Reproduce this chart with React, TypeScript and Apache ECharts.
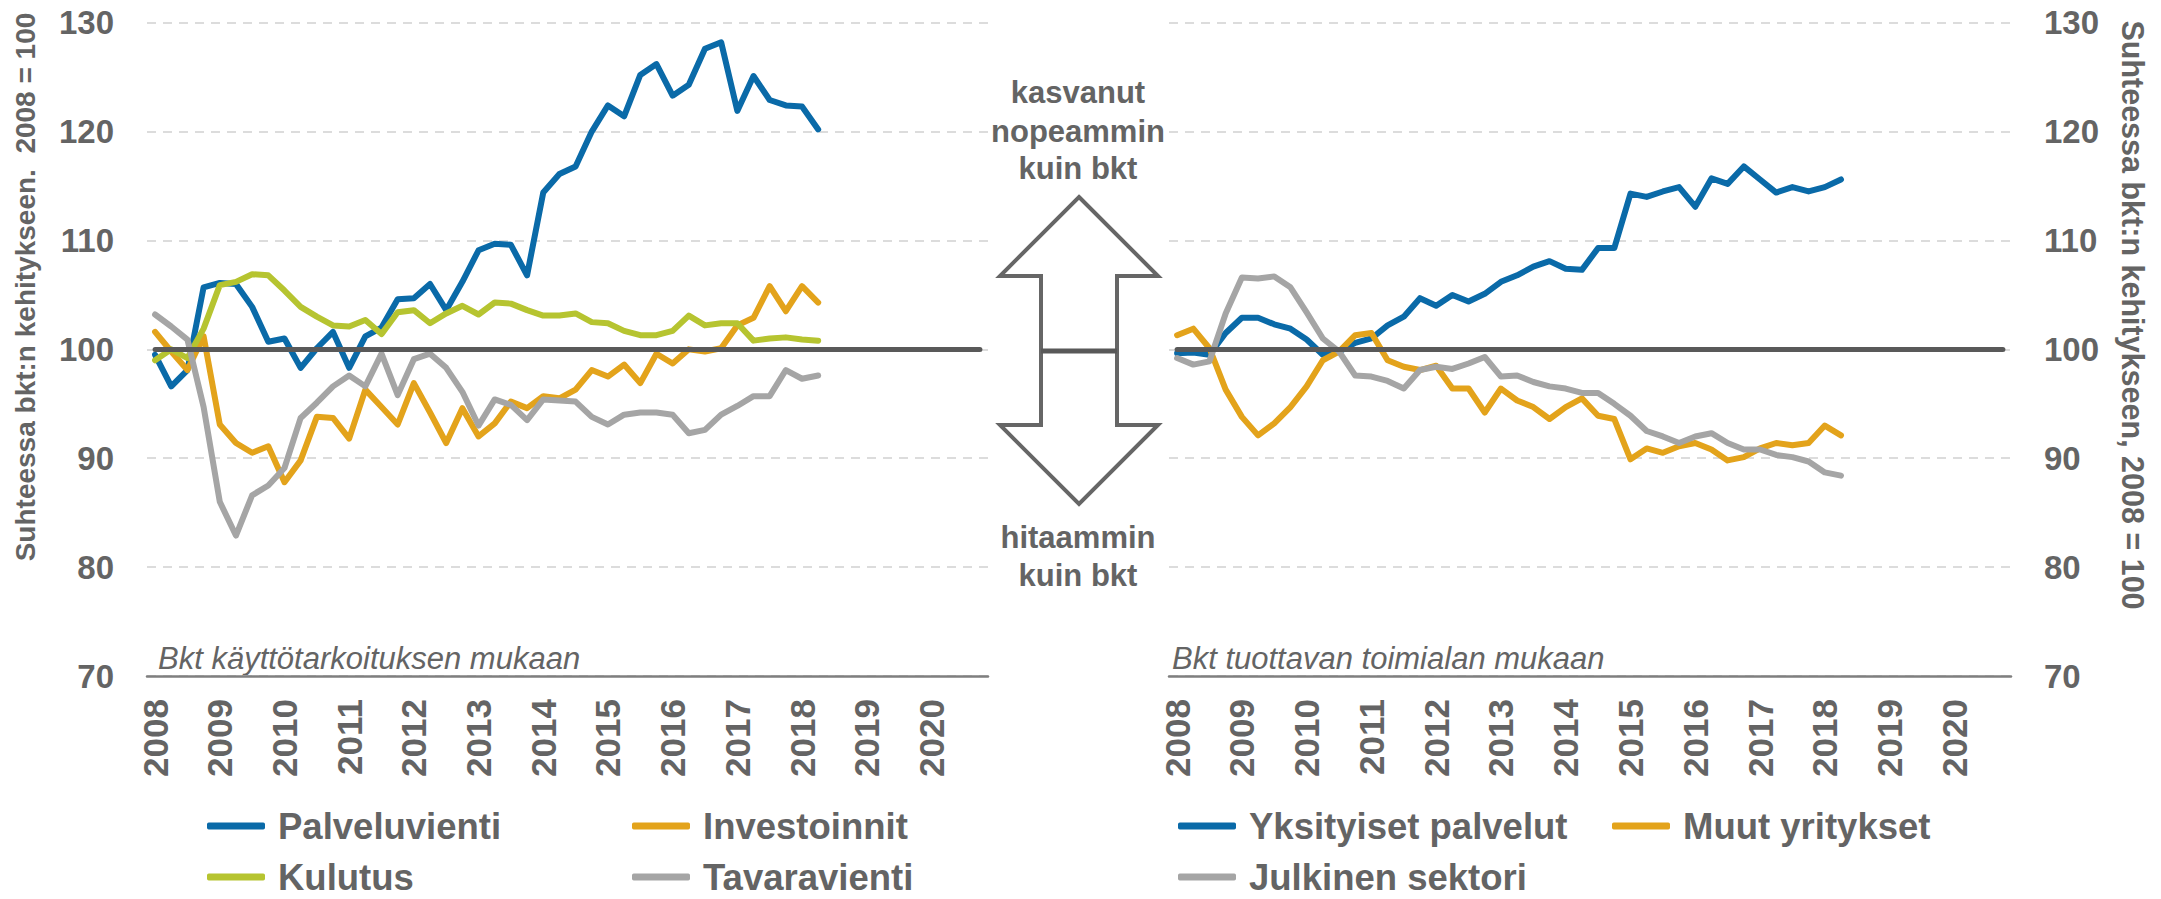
import React, { useEffect, useRef } from "react";
import * as echarts from "echarts";

const years = ["2008", "2009", "2010", "2011", "2012", "2013", "2014", "2015", "2016", "2017", "2018", "2019", "2020"];
const quarterNames = ["Q1", "Q2", "Q3", "Q4"];
const categories = years.flatMap((y) => quarterNames.map((q) => `${y} ${q}`));

// Left panel: Bkt käyttötarkoituksen mukaan (2008Q1 – 2018Q2)
const palveluvienti = [99.5, 96.6, 98.1, 105.7, 106.1, 106.0, 103.9, 100.7, 101.0, 98.3, 100.1, 101.6, 98.3, 101.2, 102.0, 104.6, 104.7, 106.0, 103.6, 106.2, 109.1, 109.7, 109.6, 106.8, 114.4, 116.1, 116.8, 120.0, 122.4, 121.4, 125.2, 126.2, 123.3, 124.3, 127.6, 128.2, 121.9, 125.1, 122.9, 122.4, 122.3, 120.2];
const investoinnit = [101.6, 99.8, 98.1, 101.2, 93.1, 91.4, 90.5, 91.1, 87.8, 89.8, 93.8, 93.7, 91.8, 96.3, 94.7, 93.1, 96.9, 94.2, 91.4, 94.6, 92.0, 93.2, 95.2, 94.6, 95.7, 95.5, 96.3, 98.1, 97.5, 98.6, 96.9, 99.6, 98.7, 100.0, 99.8, 100.1, 102.2, 102.9, 105.8, 103.5, 105.8, 104.3];
const kulutus = [99.0, 100.0, 99.2, 101.9, 105.9, 106.2, 106.9, 106.8, 105.4, 103.9, 103.0, 102.2, 102.1, 102.7, 101.4, 103.4, 103.6, 102.4, 103.3, 104.0, 103.2, 104.3, 104.2, 103.6, 103.1, 103.1, 103.3, 102.5, 102.4, 101.7, 101.3, 101.3, 101.7, 103.1, 102.2, 102.4, 102.4, 100.8, 101.0, 101.1, 100.9, 100.8];
const tavaravienti = [103.2, 102.1, 100.9, 94.7, 86.0, 82.9, 86.6, 87.5, 89.1, 93.7, 95.1, 96.6, 97.6, 96.6, 99.6, 95.8, 99.1, 99.6, 98.3, 96.1, 93.0, 95.4, 94.9, 93.5, 95.4, 95.3, 95.2, 93.8, 93.1, 94.0, 94.2, 94.2, 94.0, 92.3, 92.6, 94.0, 94.8, 95.7, 95.7, 98.1, 97.3, 97.6];

// Right panel: Bkt tuottavan toimialan mukaan
const yksityisetPalvelut = [99.65, 99.7, 99.5, 101.5, 102.9, 102.9, 102.3, 101.9, 100.9, 99.5, 99.8, 100.6, 101.0, 102.2, 103.0, 104.7, 104.0, 105.0, 104.4, 105.1, 106.2, 106.8, 107.6, 108.1, 107.4, 107.3, 109.3, 109.3, 114.3, 114.0, 114.5, 114.9, 113.1, 115.7, 115.2, 116.8, 115.6, 114.4, 114.9, 114.5, 114.9, 115.6];
const muutYritykset = [101.3, 101.9, 100.1, 96.3, 93.8, 92.1, 93.2, 94.7, 96.6, 99.0, 99.8, 101.3, 101.5, 99.0, 98.4, 98.1, 98.5, 96.4, 96.4, 94.2, 96.4, 95.3, 94.7, 93.6, 94.7, 95.5, 93.9, 93.6, 89.9, 90.9, 90.5, 91.1, 91.4, 90.8, 89.8, 90.1, 90.9, 91.4, 91.2, 91.4, 93.0, 92.1];
const julkinenSektori = [99.2, 98.6, 98.9, 103.3, 106.6, 106.5, 106.7, 105.7, 103.4, 101.0, 99.8, 97.6, 97.5, 97.1, 96.4, 98.1, 98.4, 98.2, 98.7, 99.3, 97.5, 97.6, 97.0, 96.6, 96.4, 96.0, 96.0, 95.0, 93.9, 92.5, 92.0, 91.4, 92.0, 92.3, 91.4, 90.8, 90.8, 90.3, 90.1, 89.7, 88.7, 88.4];

const yTicks = { min: 70, max: 130, interval: 10 };
const baseValue = 100;

const BLUE = "#0a6aa8";
const ORANGE = "#e3a31b";
const GREEN = "#b6c430";
const GRAY = "#a5a5a5";
const TEXT = "#646464";
const DARK = "#595959";
const FONT = '"Liberation Sans", Arial, sans-serif';

export default function App() {
  const ref = useRef<HTMLDivElement>(null);

  useEffect(() => {
    document.body.style.margin = "0";
    if (!ref.current) return;
    const chart = echarts.init(ref.current, undefined, { renderer: "svg" });

    const xAxisBase = (gridIndex: number) => ({
      type: "category",
      gridIndex,
      data: categories,
      boundaryGap: true,
      axisLine: { show: true, lineStyle: { color: "#7f7f7f", width: 2.5 } },
      axisTick: { show: false },
      splitLine: { show: false },
      axisLabel: {
        rotate: 90,
        interval: (index: number) => index % 4 === 0,
        formatter: (v: string) => v.slice(0, 4),
        fontSize: 35,
        fontWeight: "bold",
        fontFamily: FONT,
        color: TEXT,
        margin: 23,
      },
    });

    const yAxisBase = (gridIndex: number, position: string) => ({
      type: "value",
      gridIndex,
      position,
      min: yTicks.min,
      max: yTicks.max,
      interval: yTicks.interval,
      axisLine: { show: false },
      axisTick: { show: false },
      axisLabel: {
        fontSize: 33,
        fontWeight: "bold",
        fontFamily: FONT,
        color: TEXT,
        margin: 33,
      },
      splitLine: {
        show: true,
        lineStyle: { color: "#dcdcdc", width: 2, type: [9, 7] },
      },
    });

    const lineSeries = (name: string, data: number[], color: string, idx: number) => ({
      name,
      type: "line",
      xAxisIndex: idx,
      yAxisIndex: idx,
      data,
      showSymbol: false,
      symbol: "none",
      smooth: false,
      z: 3,
      color,
      itemStyle: { color },
      lineStyle: { color, width: 6, cap: "round", join: "round" },
    });

    const baseSeries = (idx: number) => ({
      name: "base" + idx,
      type: "line",
      xAxisIndex: idx,
      yAxisIndex: idx,
      data: [],
      z: 2,
      silent: true,
      markLine: {
        silent: true,
        symbol: "none",
        label: { show: false },
        lineStyle: { color: DARK, width: 5, type: "solid", cap: "round" },
        data: [[{ coord: [0, baseValue] }, { coord: [categories.length - 1, baseValue] }]],
      },
    });

    const legendItem = (name: string, left: number, centerY: number) => ({
      data: [name],
      left,
      top: centerY - 19,
      orient: "horizontal",
      padding: 0,
      icon: "roundRect",
      itemWidth: 58,
      itemHeight: 7,
      textStyle: {
        fontSize: 36.5,
        fontWeight: "bold",
        fontFamily: FONT,
        color: TEXT,
        lineHeight: 38,
        padding: [0, 0, 0, 8],
      },
    });

    const midText = (text: string, y: number) => ({
      type: "text",
      x: 1078,
      y,
      style: {
        text,
        fill: TEXT,
        font: `bold 31px ${FONT}`,
        textAlign: "center",
        textVerticalAlign: "middle",
        align: "center",
        verticalAlign: "middle",
      },
    });

    const option: any = {
      animation: false,
      backgroundColor: "#ffffff",
      grid: [
        { left: 147, top: 22.7, width: 841, height: 653.3, containLabel: false },
        { left: 1169, top: 22.7, width: 842, height: 653.3, containLabel: false },
      ],
      xAxis: [xAxisBase(0), xAxisBase(1)],
      yAxis: [yAxisBase(0, "left"), yAxisBase(1, "right")],
      legend: [
        legendItem("Palveluvienti", 207, 826),
        legendItem("Investoinnit", 632, 826),
        legendItem("Kulutus", 207, 877),
        legendItem("Tavaravienti", 632, 877),
        legendItem("Yksityiset palvelut", 1178, 826),
        legendItem("Muut yritykset", 1612, 826),
        legendItem("Julkinen sektori", 1178, 877),
      ],
      series: [
        baseSeries(0),
        baseSeries(1),
        lineSeries("Palveluvienti", palveluvienti, BLUE, 0),
        lineSeries("Investoinnit", investoinnit, ORANGE, 0),
        lineSeries("Kulutus", kulutus, GREEN, 0),
        lineSeries("Tavaravienti", tavaravienti, GRAY, 0),
        lineSeries("Yksityiset palvelut", yksityisetPalvelut, BLUE, 1),
        lineSeries("Muut yritykset", muutYritykset, ORANGE, 1),
        lineSeries("Julkinen sektori", julkinenSektori, GRAY, 1),
      ],
      graphic: [
        {
          type: "text",
          x: 25,
          y: 287,
          rotation: Math.PI / 2,
          style: {
            text: "Suhteessa bkt:n kehitykseen.  2008 = 100",
            fill: TEXT,
            font: `bold 28px ${FONT}`,
            textAlign: "center",
            textVerticalAlign: "middle",
            align: "center",
            verticalAlign: "middle",
          },
        },
        {
          type: "text",
          x: 2133,
          y: 315,
          rotation: -Math.PI / 2,
          style: {
            text: "Suhteessa bkt:n kehitykseen, 2008 = 100",
            fill: TEXT,
            font: `bold 30.5px ${FONT}`,
            textAlign: "center",
            textVerticalAlign: "middle",
            align: "center",
            verticalAlign: "middle",
          },
        },
        {
          type: "text",
          x: 158,
          y: 658,
          style: {
            text: "Bkt käyttötarkoituksen mukaan",
            fill: TEXT,
            font: `italic 31px ${FONT}`,
            textAlign: "left",
            textVerticalAlign: "middle",
            align: "left",
            verticalAlign: "middle",
          },
        },
        {
          type: "text",
          x: 1172,
          y: 658,
          style: {
            text: "Bkt tuottavan toimialan mukaan",
            fill: TEXT,
            font: `italic 31px ${FONT}`,
            textAlign: "left",
            textVerticalAlign: "middle",
            align: "left",
            verticalAlign: "middle",
          },
        },
        midText("kasvanut", 92),
        midText("nopeammin", 131),
        midText("kuin bkt", 168),
        midText("hitaammin", 537),
        midText("kuin bkt", 575),
        {
          type: "polygon",
          shape: {
            points: [
              [1079, 197],
              [1158, 276],
              [1117, 276],
              [1117, 425],
              [1158, 425],
              [1079, 504],
              [1000, 425],
              [1041, 425],
              [1041, 276],
              [1000, 276],
            ],
          },
          style: { fill: "none", stroke: "#666666", lineWidth: 4 },
        },
        {
          type: "line",
          shape: { x1: 1041, y1: 351, x2: 1117, y2: 351 },
          style: { stroke: DARK, lineWidth: 5 },
        },
      ],
    };

    chart.setOption(option);
    return () => chart.dispose();
  }, []);

  return (
    <div
      ref={ref}
      style={{ position: "absolute", left: 0, top: 0, width: 2161, height: 899 }}
    />
  );
}
